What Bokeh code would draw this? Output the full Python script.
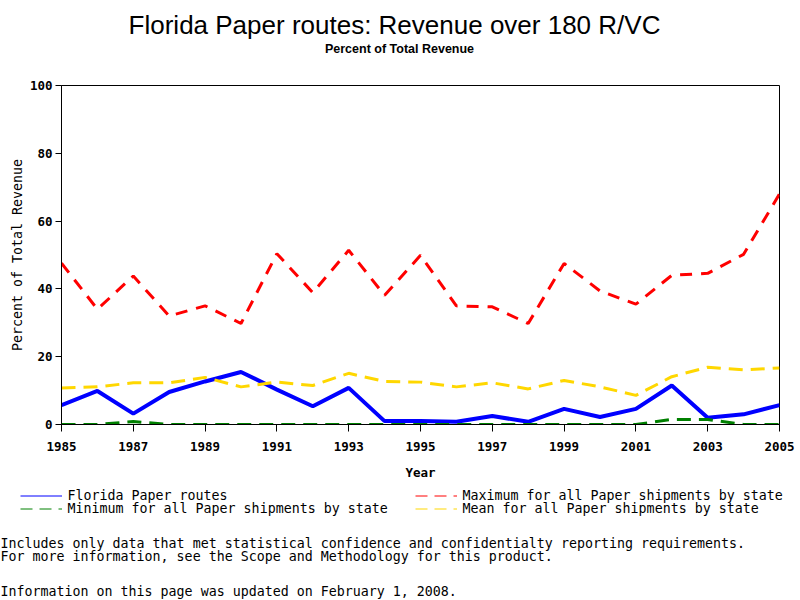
from bokeh.plotting import figure
from bokeh.layouts import column
from bokeh.models import Legend, LegendItem, FixedTicker, Range1d, Label
from bokeh.embed import file_html
from bokeh.resources import INLINE

years = list(range(1985, 2006))
florida = [5.7, 9.9, 3.2, 9.6, 12.7, 15.5, 10.3, 5.4, 10.8, 1.0, 1.0, 0.8, 2.5, 0.8, 4.6, 2.2, 4.6, 11.5, 2.0, 3.0, 5.7]
maximum = [47.6, 34.0, 43.8, 32.0, 35.0, 29.8, 50.4, 38.9, 51.4, 38.1, 49.9, 35.0, 34.7, 29.8, 47.5, 39.4, 35.5, 44.0, 44.6, 50.2, 68.0]
minimum = [0, 0, 0.9, 0, 0, 0, 0, 0, 0, 0, 0, 0, 0, 0, 0, 0, 0, 1.5, 1.5, 0, 0]
mean = [10.8, 11.1, 12.3, 12.3, 13.9, 11.1, 12.5, 11.5, 15.1, 12.7, 12.5, 11.1, 12.3, 10.5, 13.0, 11.1, 8.6, 14.1, 16.9, 16.1, 16.7]
x_ticks = years[::2]
y_ticks = [0, 20, 40, 60, 80, 100]

title = "Florida Paper routes: Revenue over 180 R/VC"
subtitle = "Percent of Total Revenue"
x_label = "Year"
y_label = "Percent of Total Revenue"
legend_labels = ["Florida Paper routes", "Maximum for all Paper shipments by state",
                 "Minimum for all Paper shipments by state", "Mean for all Paper shipments by state"]
notes = ["Includes only data that met statistical confidence and confidentialty reporting requirements.",
         "For more information, see the Scope and Methodology for this product.",
         "Information on this page was updated on February 1, 2008."]

BLUE, RED, GREEN, GOLD = "#0000FF", "#FF0000", "#008000", "#FFD700"
MONO = "DejaVu Sans Mono"
SANS = "Liberation Sans"


def blank(h, y0):
    f = figure(output_backend="svg", toolbar_location=None, width=800, height=h,
               x_range=Range1d(0, 800), y_range=Range1d(y0 + h, y0),
               x_axis_type=None, y_axis_type=None, frame_align=False,
               min_border_left=0, min_border_right=0, min_border_top=0, min_border_bottom=0)
    f.grid.visible = False
    f.outline_line_color = None
    f.background_fill_color = "white"
    f.border_fill_color = "white"
    return f


# ---------- header ----------
head = blank(70, 0)
head.add_layout(Label(x=394, y=24, text=title, text_align="center", text_baseline="middle",
                      text_font=SANS, text_font_size="26px", text_color="black"))
head.add_layout(Label(x=399, y=48.5, text=subtitle, text_align="center", text_baseline="middle",
                      text_font=SANS, text_font_style="bold", text_font_size="12.5px",
                      text_color="black"))

# ---------- main chart ----------
main = figure(output_backend="svg", toolbar_location=None, width=800, height=414,
              x_range=Range1d(1985, 2005), y_range=Range1d(0, 100), frame_align=False,
              min_border_left=61, min_border_right=21, min_border_top=15, min_border_bottom=60)
main.grid.visible = False
main.outline_line_color = "black"
main.outline_line_width = 1
main.background_fill_color = "white"
main.border_fill_color = "white"

main.xaxis.ticker = FixedTicker(ticks=x_ticks)
main.yaxis.ticker = FixedTicker(ticks=y_ticks)
for ax in (main.xaxis[0], main.yaxis[0]):
    ax.major_label_text_font = MONO
    ax.major_label_text_font_style = "bold"
    ax.major_label_text_font_size = "12.5px"
    ax.major_label_text_color = "black"
    ax.axis_label_text_color = "black"
    ax.minor_tick_line_color = None
    ax.major_tick_in = 0
    ax.axis_line_color = "black"
    ax.major_tick_line_color = "black"
main.xaxis.major_tick_out = 7
main.yaxis.major_tick_out = 6
main.xaxis.major_label_standoff = 10
main.yaxis.major_label_standoff = 3
main.xaxis.axis_label = x_label
main.xaxis.axis_label_text_font = MONO
main.xaxis.axis_label_text_font_style = "bold"
main.xaxis.axis_label_text_font_size = "12.5px"
main.xaxis.axis_label_standoff = 11
main.yaxis.axis_label = y_label
main.yaxis.axis_label_text_font = MONO
main.yaxis.axis_label_text_font_style = "normal"
main.yaxis.axis_label_text_font_size = "13.3px"
main.yaxis.axis_label_standoff = 2

main.line(years, florida, line_color=BLUE, line_width=4)
main.line(years, maximum, line_color=RED, line_width=3, line_dash="12 9")
main.line(years, minimum, line_color=GREEN, line_width=3, line_dash="14 8")
main.line(years, mean, line_color=GOLD, line_width=3, line_dash="14 8")

# ---------- footer: legend + notes ----------
foot = blank(116, 484)
# legend keys: same series, thin style (they fall outside this strip's ranges, only keys show)
r_fl = foot.line(years, florida, line_color=BLUE, line_width=1)
r_mx = foot.line(years, maximum, line_color=RED, line_width=1, line_dash="12 7")
r_mn = foot.line(years, minimum, line_color=GREEN, line_width=1, line_dash="12 7")
r_me = foot.line(years, mean, line_color=GOLD, line_width=1, line_dash="12 7")


def make_legend(items, loc):
    return Legend(items=items, orientation="horizontal", location=loc,
                  border_line_color=None, background_fill_alpha=0,
                  padding=0, margin=0, spacing=0,
                  glyph_width=42, glyph_height=13, label_height=13,
                  label_width=347, label_standoff=6,
                  label_text_font=MONO, label_text_font_size="13.3px",
                  label_text_color="black")


foot.add_layout(make_legend([LegendItem(label=legend_labels[0], renderers=[r_fl]),
                             LegendItem(label=legend_labels[1], renderers=[r_mx])], (19.5, 97.5)))
foot.add_layout(make_legend([LegendItem(label=legend_labels[2], renderers=[r_mn]),
                             LegendItem(label=legend_labels[3], renderers=[r_me])], (19.5, 84)))
for txt, yy in zip(notes, [543, 556, 591]):
    foot.add_layout(Label(x=0, y=yy, text=txt, text_align="left", text_baseline="middle",
                          text_font=MONO, text_font_size="13.3px", text_color="black"))

p = column(head, main, foot, spacing=0)
open("out.html", "w").write(file_html(p, INLINE))
